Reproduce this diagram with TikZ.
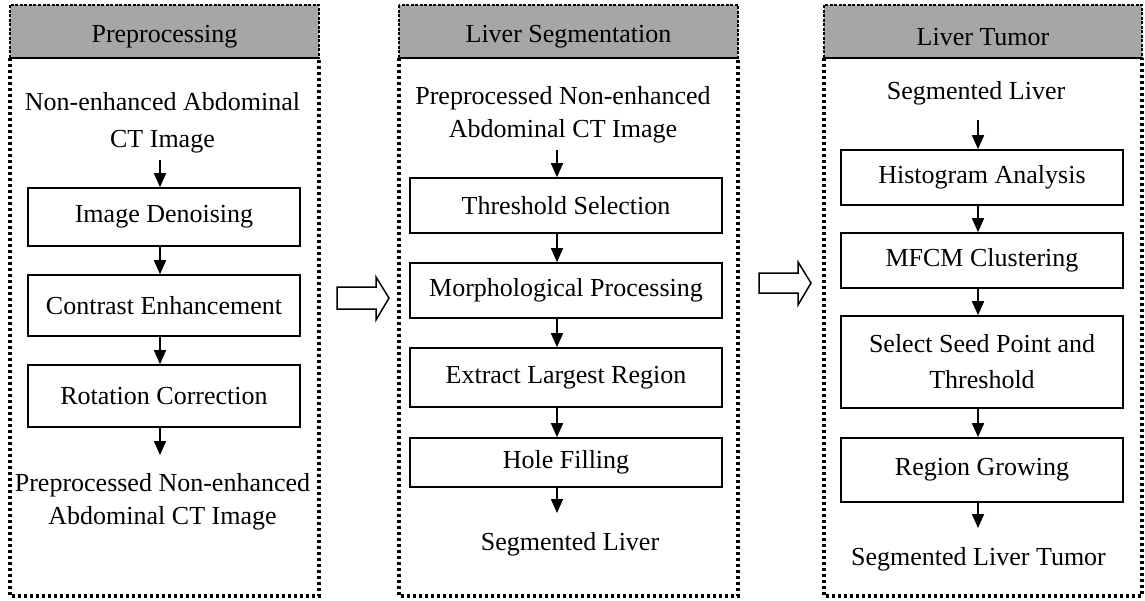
\documentclass[tikz,border=0pt]{standalone}
\usepackage{fontspec}
\setmainfont{Liberation Serif}
\usetikzlibrary{arrows.meta}
\definecolor{headgray}{RGB}{166,166,166}
\begin{document}
\begin{tikzpicture}[x=1pt,y=-1pt,
  font=\fontsize{26}{33}\selectfont,
  stepbox/.style={draw, line width=1.6pt, inner sep=0pt, align=center},
  txt/.style={align=center, inner xsep=0pt},
  arr/.style={line width=1.5pt, -{Triangle[width=12pt,length=14pt]}},
  panel/.style={line width=3.6pt, dash pattern=on 3.4pt off 2.6pt},
  headbox/.style={fill=headgray, draw, line width=1.4pt, dash pattern=on 3pt off 1.5pt},
  headline/.style={line width=1.6pt},
  hollow/.style={draw, line width=1.5pt, fill=white, line join=miter}]

\useasboundingbox (0,0) rectangle (1145,600);

% ---------- panel frames and headers ----------
\draw[panel] (10,58) -- (10,596) -- (319,596) -- (319,58);
\filldraw[headbox] (10,5) rectangle (319,58);
\draw[headline] (10,58) -- (319,58);
\node (h1) at (164.5,37) {Preprocessing};

\draw[panel] (399,58) -- (399,596) -- (738,596) -- (738,58);
\filldraw[headbox] (399,5) rectangle (738,58);
\draw[headline] (399,58) -- (738,58);
\node (h2) at (568.5,37) {Liver Segmentation};

\draw[panel] (824,58) -- (824,596) -- (1142,596) -- (1142,58);
\filldraw[headbox] (824,5) rectangle (1142,58);
\draw[headline] (824,58) -- (1142,58);
\node (h3) at (983,37) {Liver Tumor};

% ---------- preprocessing ----------
\coordinate (ax1) at (160,0);
\node[txt, anchor=south, inner ysep=7pt] (in1) at (162.5,160) {Non-enhanced Abdominal\\[4pt]CT Image};
\node[stepbox, minimum width=272pt, minimum height=58pt] (b11) at (164,217) {Image Denoising};
\node[stepbox, minimum width=272pt, minimum height=61pt] (b12) at (164,305.5) {Contrast Enhancement};
\node[stepbox, minimum width=272pt, minimum height=62pt] (b13) at (164,396) {Rotation Correction};
\node[txt, anchor=north, inner ysep=18pt] (out1) at (162.5,455) {Preprocessed Non-enhanced\\Abdominal CT Image};

\draw[arr] (in1.south -| ax1) -- (b11.north -| ax1);
\draw[arr] (b11.south -| ax1) -- (b12.north -| ax1);
\draw[arr] (b12.south -| ax1) -- (b13.north -| ax1);
\draw[arr] (b13.south -| ax1) -- (out1.north -| ax1);

% ---------- liver segmentation ----------
\coordinate (ax2) at (557,0);
\node[txt, anchor=south, inner ysep=6.4pt] (in2) at (563,150) {Preprocessed Non-enhanced\\Abdominal CT Image};
\node[stepbox, minimum width=312pt, minimum height=55pt] (b21) at (566,205.5) {Threshold Selection};
\node[stepbox, minimum width=312pt, minimum height=55pt] (b22) at (566,290.5) {Morphological Processing};
\node[stepbox, minimum width=312pt, minimum height=59pt] (b23) at (566,377.5) {Extract Largest Region};
\node[stepbox, minimum width=312pt, minimum height=49pt] (b24) at (566,462.5) {Hole Filling};
\node[txt, anchor=north, inner ysep=19pt] (out2) at (570,513) {Segmented Liver};

\draw[arr] (in2.south -| ax2) -- (b21.north -| ax2);
\draw[arr] (b21.south -| ax2) -- (b22.north -| ax2);
\draw[arr] (b22.south -| ax2) -- (b23.north -| ax2);
\draw[arr] (b23.south -| ax2) -- (b24.north -| ax2);
\draw[arr] (b24.south -| ax2) -- (out2.north -| ax2);

% ---------- liver tumor ----------
\coordinate (ax3) at (978,0);
\node[txt, anchor=south, inner ysep=14.4pt] (in3) at (976,120) {Segmented Liver};
\node[stepbox, minimum width=282pt, minimum height=55pt] (b31) at (982,177.5) {Histogram Analysis};
\node[stepbox, minimum width=282pt, minimum height=55pt] (b32) at (982,260.5) {MFCM Clustering};
\node[stepbox, minimum width=282pt, minimum height=92pt] (b33) at (982,362) {Select Seed Point and\\[3pt]Threshold};
\node[stepbox, minimum width=282pt, minimum height=64pt] (b34) at (982,470) {Region Growing};
\node[txt, anchor=north, inner ysep=19pt] (out3) at (978.5,528) {Segmented Liver Tumor};

\draw[arr] (in3.south -| ax3) -- (b31.north -| ax3);
\draw[arr] (b31.south -| ax3) -- (b32.north -| ax3);
\draw[arr] (b32.south -| ax3) -- (b33.north -| ax3);
\draw[arr] (b33.south -| ax3) -- (b34.north -| ax3);
\draw[arr] (b34.south -| ax3) -- (out3.north -| ax3);

% ---------- block arrows between stages ----------
\draw[hollow] (337,287) -- (376,287) -- (376,277) -- (389,298) -- (376,320) -- (376,309) -- (337,309) -- cycle;
\draw[hollow] (759,273) -- (798,273) -- (798,262) -- (811,283) -- (798,305) -- (798,293) -- (759,293) -- cycle;
\end{tikzpicture}
\end{document}
